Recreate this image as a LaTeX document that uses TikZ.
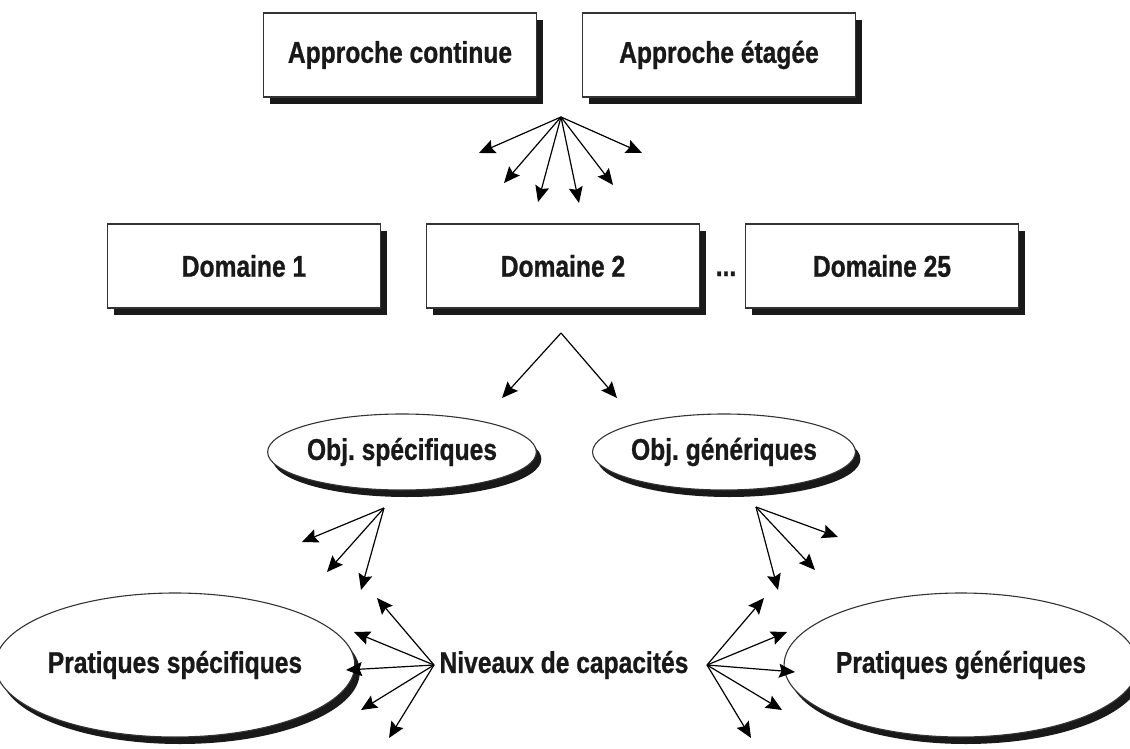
\documentclass[tikz,border=0pt]{standalone}
\usepackage{fontspec}
\setmainfont{Liberation Sans}[FakeStretch=0.82, BoldFeatures={FakeBold=0.8}]
\usetikzlibrary{arrows.meta,shadows,shapes.geometric}
\frenchspacing

\begin{document}
\begin{tikzpicture}[x=1pt,y=-1pt,
  lbl/.style={font=\fontsize{30}{34}\selectfont\bfseries, text=black!90},
  shbox/.style={lbl, draw=black!80, line width=1.3pt, fill=white,
    minimum width=273pt, minimum height=84pt, inner sep=0pt,
    drop shadow={shadow xshift=6pt, shadow yshift=-7pt, fill=black!90, opacity=1}},
  shell/.style={lbl, ellipse, draw=black!80, line width=1.1pt, fill=white, inner sep=0pt,
    drop shadow={shadow xshift=5pt, shadow yshift=-7pt, fill=black!90, opacity=1}},
  fan/.style={line width=1.2pt, -{Stealth[length=16pt,width=14pt,inset=2.5pt]}}
]
\useasboundingbox (0,0) rectangle (1130,749);

% approaches
\node[shbox] (cont) at (400,55) {Approche continue};
\node[shbox] (etag) at (719,55) {Approche étagée};

% domains
\node[shbox] (d1)  at (244,266) {Domaine 1};
\node[shbox] (d2)  at (563,266) {Domaine 2};
\node[lbl, anchor=base] (dots) at (726,276) {...};
\node[shbox] (d25) at (882,266) {Domaine 25};

% objectives
\node[shell, minimum width=234pt, minimum height=76pt] (os) at (402,452) {Obj. spécifiques};
\node[shell, minimum width=226pt, minimum height=76pt] (og) at (724,452) {Obj. génériques};

% practices and capability levels
\node[shell, minimum width=322pt, minimum height=144pt] (ps) at (175,665) {Pratiques spécifiques};
\node[shell, minimum width=313pt, minimum height=144pt] (pg) at (961,665) {Pratiques génériques};
\node[lbl, inner sep=0pt] (niv) at (564,665) {Niveaux de capacités};

% fan under the two approaches
\coordinate (f1) at (561,117);
\foreach \x/\y [count=\i] in {479/153,504/183,538/202,579/203,613/185,642/153}
  \coordinate (f1t\i) at (\x,\y);
\foreach \i in {1,...,6} \draw[fan] (f1) -- (f1t\i);

% split under Domaine 2
\coordinate (v) at (561,333);
\coordinate (vl) at (502,398);
\coordinate (vr) at (617,398);
\draw[fan] (v) -- (vl);
\draw[fan] (v) -- (vr);

% fans under the objectives
\coordinate (fs) at (384,508);
\foreach \x/\y [count=\i] in {302/542,327/572,361/590}
  \coordinate (fst\i) at (\x,\y);
\foreach \i in {1,...,3} \draw[fan] (fs) -- (fst\i);

\coordinate (fg) at (756,507);
\foreach \x/\y [count=\i] in {838/537,815/570,778/590}
  \coordinate (fgt\i) at (\x,\y);
\foreach \i in {1,...,3} \draw[fan] (fg) -- (fgt\i);

% fans on both sides of the capability levels
\coordinate (nl) at (434,665);
\foreach \x/\y [count=\i] in {377/598,354/632,346/670,361/710,389/738}
  \coordinate (nlt\i) at (\x,\y);
\foreach \i in {1,...,5} \draw[fan] (nl) -- (nlt\i);

\coordinate (nr) at (707,665);
\foreach \x/\y [count=\i] in {764/598,787/632,795/672,782/710,751/738}
  \coordinate (nrt\i) at (\x,\y);
\foreach \i in {1,...,5} \draw[fan] (nr) -- (nrt\i);
\end{tikzpicture}
\end{document}
